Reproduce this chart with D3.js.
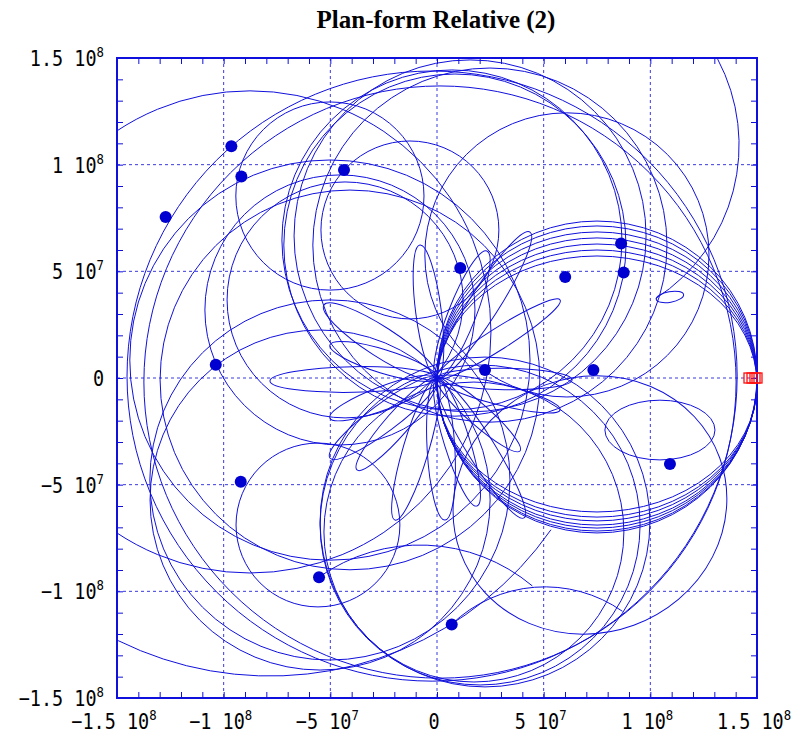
<!DOCTYPE html>
<html>
<head>
<meta charset="utf-8">
<script src="https://cdn.jsdelivr.net/npm/d3@7"></script>
<style>
  body { margin: 0; background: #fff; }
</style>
</head>
<body>
<div id="chart"></div>
<script>
// all positions in units of 10^6 km (rotating frame, Sun at the origin)
const tickValues   = [-150, -100, -50, 0, 50, 100, 150];
const tickMantissa = ["\u22121.5", "\u22121", "\u22125", "0", "5", "1", "1.5"];
const tickExponent = ["8", "8", "7", "", "7", "8", "8"];

// end points of the trajectories [x, y]
const endPoints = [
  [-96.4, 108.6], [-91.7, 94.4], [-127.2, 75.5], [-43.6, 97.5],
  [10.9, 51.6], [60.1, 47.3], [86.3, 63.1], [87.5, 49.4],
  [22.5, 3.75], [73.3, 3.75], [-103.7, 6.2], [-92.0, -48.6],
  [-55.3, -93.4], [6.9, -115.5], [109.2, -40.3]
];

// Earth markers near (1.5e8, 0)
const earthX = [146.25, 147.66, 149.06, 150.0];

// near-circular loops [cx, cy, r]
const loopCircles = [
  [7.0, 64.7, 79.7], [8.4, 62.3, 80.2], [15.5, 66.6, 82.5], [24.8, 62.3, 83],
  [60.9, 57.7, 66.6],
  [-2.3, 0.9, 143], [1.4, -1.9, 138.8],
  [-87.7, 21.6, 113],
  [-50.2, 8.4, 93.8], [-40.8, -0.9, 89],
  [20.2, -68.9, 75], [22.5, -67.5, 77.3], [17.3, -72.2, 70.3],
  [-50.2, -47.8, 84.4], [-55.8, -68.9, 38.4], [-54.8, -57.2, 79.7],
  [-50.2, 85.3, 44.1], [-12.7, 69.4, 41.7],
  [-45.5, 31.9, 63.3], [-43.1, 36.6, 55.3]
];

// the family of loops between the Sun and the Earth point
const fanCx = 75;
const fanRx = 75;
const fanCy = [0.47, -0.23, -0.94, -1.64, -2.1, -2.6, -2.8];
const fanRy = [73.1, 71.5, 69.4, 67.3, 64.9, 62.6, 60.0];

// other oval loops [cx, cy, rx, ry, angle deg]
const ovalLoops = [
  [71.7, -59.5, 64.7, 60, 20],
  [104.5, -24.4, 25.8, 14, 0],
  [109.2, 38, 6.5, 2.5, 10]
];

// open arcs [cx, cy, r, startDeg, endDeg]
const openArcs = [
  [55.8, 109.2, 85.8, 28, -57],
  [-78.3, 21.1, 160.8, -165, -35],
  [50.6, -161.2, 63.3, 133.7, 55],
  [-8.0, -160.3, 82, 125.3, 50]
];

// petals around the Sun: tip [x, y] and width
const petals = [
  [43.6, 68.4, 14], [23.4, 59.5, 13], [63.3, -0.9, 10], [57.7, -15, 10],
  [40.8, -65.6, 13], [18.75, -60, 12], [38.9, -34.2, 10], [3.75, -66.6, 13],
  [-78.3, -1.4, 12], [-50.2, -18.75, 11], [-50.2, -37.5, 13], [-53, 34.2, 14],
  [-50.2, 15.5, 11], [-8, 62.3, 12], [-37.5, -43.1, 11], [57.7, 36.6, 10],
  [-19.7, -66.6, 12]
];

const W = 803, H = 744;
const blue = "#1010dc";
const margin = {top: 58, right: 46, bottom: 46, left: 117};

const svg = d3.select("#chart").append("svg")
    .attr("width", W).attr("height", H);

const x = d3.scaleLinear().domain([-150, 150]).range([margin.left, W - margin.right]);
const y = d3.scaleLinear().domain([-150, 150]).range([H - margin.bottom, margin.top]);
const len = v => x(v) - x(0);

svg.append("defs").append("clipPath").attr("id", "plot")
  .append("rect")
    .attr("x", x(-150)).attr("y", y(150))
    .attr("width", x(150) - x(-150)).attr("height", y(-150) - y(150));

// grid
const grid = svg.append("g")
    .attr("stroke", "#3a3ae0").attr("stroke-width", 1)
    .attr("stroke-dasharray", "3,3");
grid.selectAll("line.vx").data(tickValues.slice(1, -1)).join("line")
    .attr("x1", d => x(d)).attr("x2", d => x(d))
    .attr("y1", y(150)).attr("y2", y(-150));
grid.selectAll("line.hy").data(tickValues.slice(1, -1)).join("line")
    .attr("y1", d => y(d)).attr("y2", d => y(d))
    .attr("x1", x(-150)).attr("x2", x(150));

// minor ticks, pointing inwards on all four sides
const minor = d3.range(-150, 151, 10);
const tickAxis = (axis, tr) => svg.append("g")
    .attr("transform", tr)
    .call(axis.tickValues(minor).tickSize(-6).tickFormat(""))
    .call(g => g.select(".domain").remove())
    .call(g => g.selectAll("line").attr("stroke", blue));
tickAxis(d3.axisBottom(x), `translate(0,${y(-150)})`);
tickAxis(d3.axisTop(x), `translate(0,${y(150)})`);
tickAxis(d3.axisLeft(y), `translate(${x(-150)},0)`);
tickAxis(d3.axisRight(y), `translate(${x(150)},0)`);

// trajectories
const curves = svg.append("g")
    .attr("clip-path", "url(#plot)")
    .attr("fill", "none").attr("stroke", blue).attr("stroke-width", 1);

curves.selectAll("circle.loop").data(loopCircles).join("circle")
    .attr("cx", d => x(d[0])).attr("cy", d => y(d[1])).attr("r", d => len(d[2]));

curves.selectAll("ellipse.fan").data(fanCy).join("ellipse")
    .attr("cx", x(fanCx)).attr("cy", d => y(d))
    .attr("rx", len(fanRx)).attr("ry", (d, i) => len(fanRy[i]));

curves.selectAll("ellipse.oval").data(ovalLoops).join("ellipse")
    .attr("transform", d => `translate(${x(d[0])},${y(d[1])}) rotate(${-d[4]})`)
    .attr("rx", d => len(d[2])).attr("ry", d => len(d[3]));

curves.selectAll("path.arc").data(openArcs).join("path")
    .attr("d", d => {
      const p = d3.path();
      const rad = Math.PI / 180;
      p.arc(x(d[0]), y(d[1]), len(d[2]), -d[3] * rad, -d[4] * rad, d[4] > d[3]);
      return p.toString();
    });

curves.selectAll("ellipse.petal").data(petals).join("ellipse")
    .attr("transform", d => {
      const ang = Math.atan2(d[1], d[0]) * 180 / Math.PI;
      return `translate(${x(d[0] / 2)},${y(d[1] / 2)}) rotate(${-ang})`;
    })
    .attr("rx", d => len(Math.hypot(d[0], d[1]) / 2))
    .attr("ry", d => len(d[2] / 2));

// frame
svg.append("rect")
    .attr("x", x(-150)).attr("y", y(150))
    .attr("width", x(150) - x(-150)).attr("height", y(-150) - y(150))
    .attr("fill", "none").attr("stroke", blue).attr("stroke-width", 2);

// end points
svg.append("g").selectAll("circle").data(endPoints).join("circle")
    .attr("cx", d => x(d[0])).attr("cy", d => y(d[1])).attr("r", 6)
    .attr("fill", "#0000d0");

// Earth markers
svg.append("g").selectAll("rect").data(earthX).join("rect")
    .attr("x", d => x(d) - 5).attr("y", y(0) - 5)
    .attr("width", 10).attr("height", 10)
    .attr("fill", "none").attr("stroke", "#ff1010").attr("stroke-width", 1.3);

// tick labels (mantissa + power of ten)
const labelFont = "'DejaVu Sans Mono', monospace";
function tickLabel(g, i) {
  const t = g.append("text")
      .attr("font-family", labelFont).attr("font-size", 21)
      .attr("fill", "#000");
  t.append("tspan").text(tickExponent[i] ? tickMantissa[i] + " 10" : tickMantissa[i]);
  if (tickExponent[i]) {
    t.append("tspan").attr("font-size", 14).attr("dy", -9).text(tickExponent[i]);
  }
  return t;
}
tickValues.forEach((v, i) => {
  const gx = svg.append("g")
      .attr("transform", `translate(${x(v) - 3},729) scale(0.88,1)`);
  tickLabel(gx, i).attr("text-anchor", "middle");
  const gy = svg.append("g")
      .attr("transform", `translate(104,${y(v) + 8}) scale(0.88,1)`);
  tickLabel(gy, i).attr("text-anchor", "end");
});

// title
svg.append("text")
    .attr("x", 436).attr("y", 28)
    .attr("text-anchor", "middle")
    .attr("font-family", "'Liberation Serif', serif")
    .attr("font-weight", "bold").attr("font-size", 25)
    .text("Plan-form Relative (2)");
</script>
</body>
</html>
